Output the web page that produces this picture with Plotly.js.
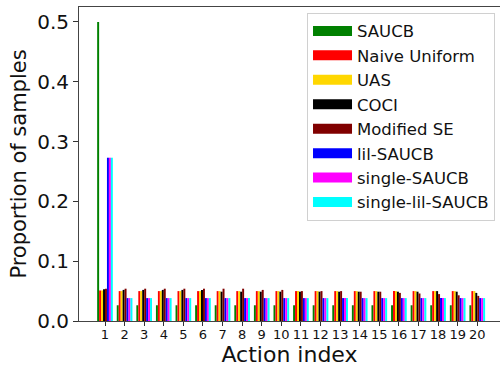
<!DOCTYPE html>
<html>
<head>
<meta charset="utf-8">
<script src="https://cdn.plot.ly/plotly-3.0.1.min.js"></script>
<style>html,body{margin:0;padding:0;background:#fff;}#plot{width:500px;height:368px;}</style>
</head>
<body>
<div id="plot"></div>
<script>
var actions = [1,2,3,4,5,6,7,8,9,10,11,12,13,14,15,16,17,18,19,20];
var seriesNames = ["SAUCB","Naive Uniform","UAS","COCI","Modified SE","lil-SAUCB","single-SAUCB","single-lil-SAUCB"];
var seriesColors = ["#008000","#ff0000","#ffd700","#000000","#800000","#0000ff","#ff00ff","#00ffff"];

var saucb = [0.5,0.0263,0.0263,0.0263,0.0263,0.0263,0.0263,0.0263,0.0263,0.0263,0.0263,0.0263,0.0263,0.0263,0.0263,0.0263,0.0263,0.0263,0.0263,0.0263];
var naiveUniform = [0.051,0.05,0.05,0.05,0.05,0.05,0.05,0.05,0.05,0.05,0.05,0.05,0.05,0.05,0.05,0.05,0.05,0.05,0.05,0.05];
var uas = [0.051,0.05,0.05,0.05,0.05,0.05,0.05,0.05,0.05,0.05,0.05,0.05,0.05,0.05,0.05,0.05,0.05,0.05,0.05,0.05];
var coci = [0.053,0.052,0.052,0.052,0.052,0.052,0.049,0.049,0.049,0.049,0.049,0.049,0.049,0.049,0.049,0.049,0.049,0.05,0.049,0.047];
var modifiedSE = [0.054,0.054,0.054,0.054,0.054,0.054,0.054,0.054,0.052,0.052,0.05,0.05,0.05,0.049,0.049,0.047,0.046,0.045,0.043,0.042];
var lilSaucb = [0.273,0.0383,0.0383,0.0383,0.0383,0.0383,0.0383,0.0383,0.0383,0.0383,0.0383,0.0383,0.0383,0.0383,0.0383,0.0383,0.0383,0.0383,0.0383,0.0383];
var singleSaucb = [0.273,0.0383,0.0383,0.0383,0.0383,0.0383,0.0383,0.0383,0.0383,0.0383,0.0383,0.0383,0.0383,0.0383,0.0383,0.0383,0.0383,0.0383,0.0383,0.0383];
var singleLilSaucb = [0.273,0.0383,0.0383,0.0383,0.0383,0.0383,0.0383,0.0383,0.0383,0.0383,0.0383,0.0383,0.0383,0.0383,0.0383,0.0383,0.0383,0.0383,0.0383,0.0383];
var xTickLabels = ["1","2","3","4","5","6","7","8","9","10","11","12","13","14","15","16","17","18","19","20"];
var yTickVals = [0,0.1,0.2,0.3,0.4,0.5];
var yTickText = ["0.0","0.1","0.2","0.3","0.4","0.5"];

var allSeries = [saucb,naiveUniform,uas,coci,modifiedSE,lilSaucb,singleSaucb,singleLilSaucb];
var FONT = "DejaVu Sans, sans-serif";
var traces = [];
allSeries.forEach(function(vals,i){
  traces.push({type:"bar", x:actions, y:vals, name:seriesNames[i],
    marker:{color:seriesColors[i], line:{width:0}}, showlegend:false, hoverinfo:"none"});
});
seriesNames.forEach(function(n,i){
  traces.push({type:"scatter", mode:"lines", x:[null], y:[null], name:n,
    line:{color:seriesColors[i], width:11}, showlegend:true, hoverinfo:"none"});
});

var layout = {
  width:500, height:368,
  margin:{l:79, r:0, t:7, b:47},
  paper_bgcolor:"#fff", plot_bgcolor:"#fff",
  barmode:"group", bargap:0.2, bargroupgap:0,
  showlegend:true,
  font:{family:FONT, color:"#111"},
  xaxis:{range:[-0.327,21.16], tickvals:actions, ticktext:xTickLabels,
    ticks:"outside", ticklen:4, tickcolor:"#333", tickfont:{size:13, family:FONT, color:"#111"},
    ticklabelstandoff:-3,
    showline:true, linecolor:"#444", linewidth:1, mirror:true, showgrid:false, zeroline:false,
    title:{text:"Action index", font:{size:22, family:FONT, color:"#111"}, standoff:3}},
  yaxis:{range:[0,0.525], tickvals:yTickVals, ticktext:yTickText,
    ticks:"outside", ticklen:5, tickcolor:"#333", tickfont:{size:20, family:FONT, color:"#111"},
    showline:true, linecolor:"#444", linewidth:1, showgrid:false, zeroline:false,
    title:{text:"Proportion of samples", font:{size:21, family:FONT, color:"#111"}, standoff:4}},
  legend:{x:0.5416, y:0.982, xanchor:"left", yanchor:"top", itemwidth:39,
    bgcolor:"rgba(255,255,255,0.8)", bordercolor:"#d0d0d0", borderwidth:1,
    font:{size:16.5, family:FONT, color:"#111"}, traceorder:"normal", tracegroupgap:0}
};
Plotly.newPlot("plot", traces, layout, {staticPlot:true, displayModeBar:false});
</script>
</body>
</html>
